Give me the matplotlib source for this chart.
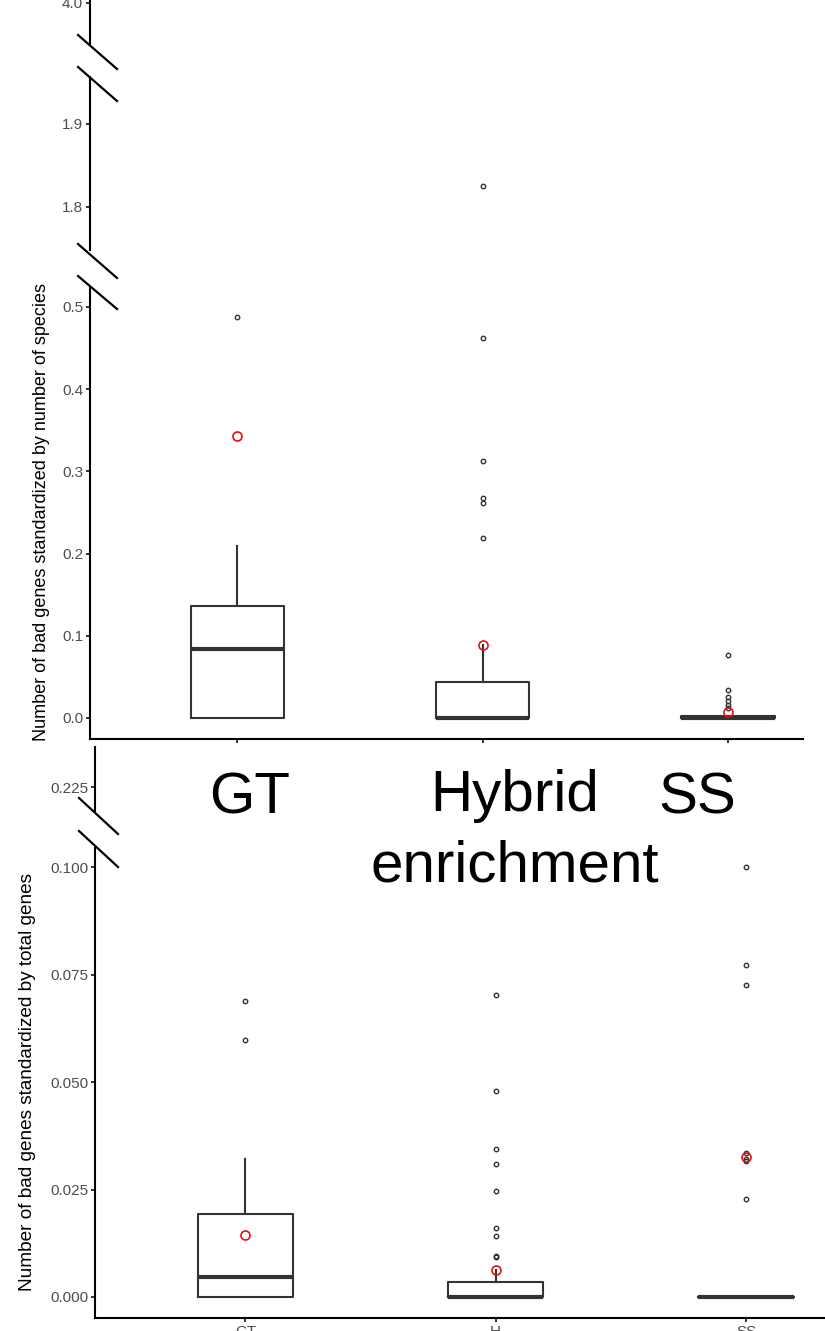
import matplotlib
matplotlib.use("Agg")
import matplotlib.pyplot as plt
from matplotlib.lines import Line2D

plt.rcParams['font.family'] = ['Liberation Sans', 'DejaVu Sans']

W, H = 825, 1331

groups = ["GT", "Hybrid\nenrichment", "SS"]
bottom_ticklabels = ["GT", "H", "SS"]

# 上图：按物种数标准化
sp_q1 = [0.0, 0.0, 0.0]
sp_med = [0.0836, 0.0, 0.0]
sp_q3 = [0.1366, 0.0442, 0.0020]
sp_whislo = [0.0, 0.0, 0.0]
sp_whishi = [0.2096, 0.0888, 0.0020]
sp_mean = [0.3434, 0.0888, 0.0069]
sp_fliers = [[0.488],
             [1.825, 0.4627, 0.3127, 0.2676, 0.2612, 0.2193],
             [0.0766, 0.034, 0.026, 0.0207, 0.0155, 0.0118]]

# 下图：按总基因数标准化
tg_q1 = [0.0, 0.0, 0.0]
tg_med = [0.0046, 0.0, 0.0]
tg_q3 = [0.0193, 0.00357, 0.0]
tg_whislo = [0.0, 0.0, 0.0]
tg_whishi = [0.0321, 0.0063, 0.0]
tg_mean = [0.01446, 0.0063, 0.0325]
tg_fliers = [[0.0690, 0.0599],
             [0.0702, 0.0480, 0.0345, 0.0309, 0.0247, 0.0160, 0.0141, 0.0095, 0.0092],
             [0.1000, 0.0772, 0.0726, 0.0335, 0.0322, 0.0316, 0.0229]]

DARK = '#333333'
GREY = '#4D4D4D'

fig = plt.figure(figsize=(W / 100, H / 100), dpi=100)


def px_axes(x0, x1, y0, y1):
    # 像素坐标(左上为原点)转成figure坐标
    return fig.add_axes([x0 / W, 1 - y1 / H, (x1 - x0) / W, (y1 - y0) / H])


def make_stats(q1, med, q3, lo, hi, fl, mean):
    stats = []
    for i in range(len(q1)):
        stats.append(dict(q1=q1[i], med=med[i], q3=q3[i], whislo=lo[i], whishi=hi[i],
                          fliers=fl[i], mean=mean[i]))
    return stats


def draw_boxes(ax, stats, width):
    ax.bxp(stats, positions=[1, 2, 3], widths=width, showcaps=False, showmeans=True,
           boxprops=dict(color=DARK, linewidth=1.5),
           whiskerprops=dict(color=DARK, linewidth=1.5),
           medianprops=dict(color=DARK, linewidth=3.0, solid_capstyle='butt'),
           flierprops=dict(marker='o', markersize=3.2, markerfacecolor='none',
                           markeredgecolor=DARK, markeredgewidth=1.0),
           meanprops=dict(marker='o', markersize=6.5, markerfacecolor='none',
                          markeredgecolor='#E3120B', markeredgewidth=1.2))


def style_axes(ax, ylim, yticks, ylabels, xlim, bottom):
    ax.set_xlim(xlim)
    ax.set_ylim(ylim)
    ax.set_yticks(yticks)
    ax.set_yticklabels(ylabels)
    for s in ['top', 'right']:
        ax.spines[s].set_visible(False)
    ax.spines['left'].set_linewidth(1.5)
    ax.spines['bottom'].set_linewidth(1.5)
    ax.spines['bottom'].set_visible(bottom)
    ax.tick_params(axis='y', direction='out', length=3, width=1.4, color=DARK,
                   labelsize=11, labelcolor=GREY, pad=2)
    ax.tick_params(axis='x', direction='out', length=3, width=1.4, color=DARK,
                   labelsize=11, labelcolor=GREY, pad=2)
    if not bottom:
        ax.tick_params(axis='x', bottom=False, labelbottom=False)
    ax.patch.set_alpha(0)


# 上图三段
sp_stats = make_stats(sp_q1, sp_med, sp_q3, sp_whislo, sp_whishi, sp_fliers, sp_mean)
top_xlim = (0.3987, 3.306)

ax1 = px_axes(90, 803, 288, 739)
draw_boxes(ax1, sp_stats, 0.38)
style_axes(ax1, (-0.02555, 0.5231), [0, 0.1, 0.2, 0.3, 0.4, 0.5],
           ['0.0', '0.1', '0.2', '0.3', '0.4', '0.5'], top_xlim, True)
ax1.set_xticks([1, 2, 3])
ax1.set_xticklabels([])

ax2 = px_axes(90, 803, 77, 250)
draw_boxes(ax2, sp_stats, 0.38)
style_axes(ax2, (1.7482, 1.9566), [1.8, 1.9], ['1.8', '1.9'], top_xlim, False)

ax3 = px_axes(90, 803, -30, 45)
draw_boxes(ax3, sp_stats, 0.38)
style_axes(ax3, (4.0 - 42 / 830, 4.0 + 33 / 830), [4.0], ['4.0'], top_xlim, False)

fig.text(42 / W, 1 - 512 / H, 'Number of bad genes standardized by number of species',
         rotation=90, ha='center', va='center', fontsize=13.0, color='black')

# 下图两段
tg_stats = make_stats(tg_q1, tg_med, tg_q3, tg_whislo, tg_whishi, tg_fliers, tg_mean)
bot_xlim = (0.3986, 3.4156)

ax4 = px_axes(95, 850, 848, 1318)
draw_boxes(ax4, tg_stats, 0.38)
style_axes(ax4, (-0.00489, 0.10454), [0, 0.025, 0.05, 0.075, 0.1],
           ['0.000', '0.025', '0.050', '0.075', '0.100'], bot_xlim, True)
ax4.set_xticks([1, 2, 3])
ax4.set_xticklabels(bottom_ticklabels)

ax5 = px_axes(95, 850, 747, 812)
draw_boxes(ax5, tg_stats, 0.38)
style_axes(ax5, (0.225 - 25 / 4295, 0.225 + 40 / 4295), [0.225], ['0.225'], bot_xlim, False)

fig.text(28 / W, 1 - 1082 / H, 'Number of bad genes standardized by total genes',
         rotation=90, ha='center', va='center', fontsize=13.7, color='black')

# 断轴斜线
breaks = [((78, 35), (117, 69)), ((78, 67), (117, 101)),
          ((78, 244), (117, 278)), ((78, 276), (117, 309)),
          ((79, 798), (118, 834)), ((79, 831), (118, 867))]
for (xa, ya), (xb, yb) in breaks:
    fig.add_artist(Line2D([xa / W, xb / W], [1 - ya / H, 1 - yb / H],
                          color='black', linewidth=1.6, transform=fig.transFigure))

# 大号分组标签(多行时baseline对齐最后一行)
label_x = [250, 515, 697]
for lab, xp in zip(groups, label_x):
    nlines = lab.count('\n')
    base_y = 813 + 69 * nlines
    fig.text(xp / W, 1 - base_y / H, lab, ha='center', va='baseline', fontsize=42,
             color='black', linespacing=1.41)

fig.savefig('out.png', dpi=100, facecolor='white')
